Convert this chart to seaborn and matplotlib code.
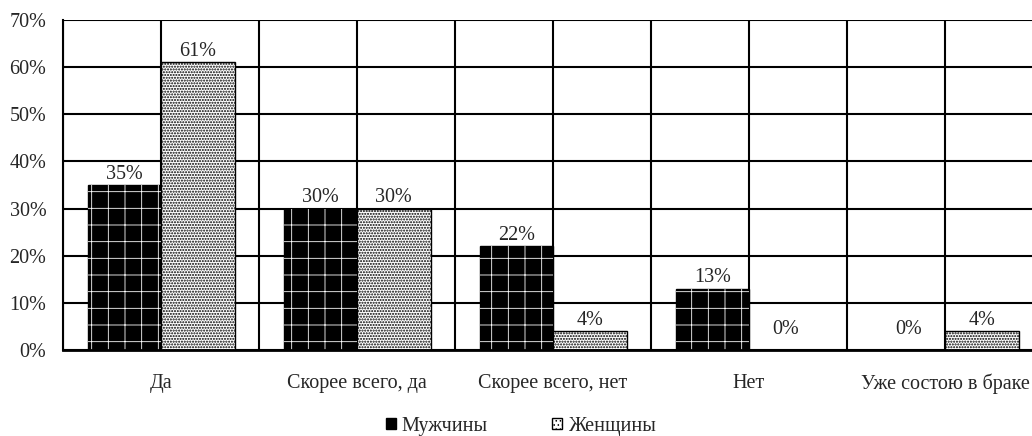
import pandas as pd
import matplotlib
matplotlib.use("Agg")
import matplotlib.pyplot as plt
import seaborn as sns
from matplotlib.patches import Rectangle, Patch

# -----------------------------
# Data
# -----------------------------
categories = ["Да", "Скорее всего, да", "Скорее всего, нет", "Нет", "Уже состою в браке"]
men = [35, 30, 22, 13, 0]
women = [61, 30, 4, 0, 4]
series = ["Мужчины", "Женщины"]
yticks = [0, 10, 20, 30, 40, 50, 60, 70]

df = pd.DataFrame({
    "cat": categories * 2,
    "val": men + women,
    "sex": [series[0]] * len(men) + [series[1]] * len(women),
})

FS = 14.5

# -----------------------------
# Style
# -----------------------------
sns.set_style("white")
plt.rcParams["font.family"] = ["Liberation Serif", "DejaVu Serif"]
plt.rcParams["hatch.linewidth"] = 1.0

fig = plt.figure(figsize=(10.32, 4.36), dpi=100)
ax = fig.add_axes([63 / 1032, 86 / 436, 980 / 1032, 330 / 436])

sns.barplot(
    data=df, x="cat", y="val", hue="sex",
    order=categories, hue_order=series,
    palette=["black", "white"], width=0.75, gap=0,
    edgecolor="black", linewidth=1.0, legend=False, ax=ax,
)

n = len(categories)
men_bars = ax.patches[:n]
women_bars = ax.patches[n:2 * n]

for b in women_bars:
    b.set_hatch("......")

# thin white grid pattern on the black bars
plt.rcParams["hatch.linewidth"] = 0.6
for b in men_bars:
    if b.get_height() > 0:
        ax.add_patch(Rectangle(
            (b.get_x() + 1e-3, b.get_y()), b.get_width() - 2e-3, b.get_height(),
            fill=False, edgecolor="white", hatch="+", linewidth=0,
            zorder=b.get_zorder() + 0.1,
        ))

# value labels
for bars, vals in [(men_bars, men), (women_bars, women)]:
    for b, v in zip(bars, vals):
        off = 1 if v > 0 else 8
        ax.annotate(f"{v}%", (b.get_x() + b.get_width() / 2, v),
                    xytext=(0, off), textcoords="offset points",
                    ha="center", va="bottom", fontsize=FS)

# -----------------------------
# Axes & grid
# -----------------------------
ax.set_xlim(-0.5, n - 0.5)
ax.set_ylim(0, 70)
ax.set_yticks(yticks)
ax.set_yticklabels([f"{t}%" for t in yticks], fontsize=FS)
ax.set_xticks(range(n))
ax.set_xticklabels(categories, fontsize=FS)
ax.set_xticks([i - 0.5 for i in range(n + 1)], minor=True)
ax.tick_params(axis="both", which="both", length=0)
ax.tick_params(axis="x", pad=17)
ax.tick_params(axis="y", pad=12)

ax.set_axisbelow(True)
ax.grid(True, which="major", axis="both", color="black", linewidth=1.5)
ax.grid(True, which="minor", axis="x", color="black", linewidth=1.5)
ax.set_xlabel("")
ax.set_ylabel("")

for s in ["top", "right"]:
    ax.spines[s].set_visible(False)
ax.spines["left"].set_color("black")
ax.spines["left"].set_linewidth(1.5)
ax.spines["bottom"].set_color("black")
ax.spines["bottom"].set_linewidth(2.0)

# -----------------------------
# Legend
# -----------------------------
handles = [
    Patch(facecolor="black", edgecolor="black", label=series[0]),
    Patch(facecolor="white", edgecolor="black", hatch="....", label=series[1]),
]
fig.legend(handles=handles, loc="center", bbox_to_anchor=(521 / 1032, 0.022),
           ncol=2, frameon=False, fontsize=FS, handlelength=0.5,
           handleheight=0.5, handletextpad=0.3, columnspacing=3.2)

plt.savefig("out.png", dpi=100)
plt.close()
